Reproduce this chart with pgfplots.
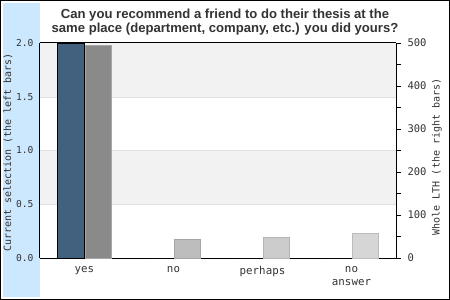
\documentclass[border=0pt]{standalone}
\usepackage{pgfplots}
\pgfplotsset{compat=1.18}
\usepackage{fontspec}
\setmainfont{Liberation Sans}
\newfontfamily\monofont{DejaVu Sans Mono}
\definecolor{sidebar}{HTML}{CCE8FF}
\definecolor{band}{HTML}{F2F2F2}
\definecolor{gridc}{HTML}{E0E0E0}
\definecolor{selbar}{HTML}{41617E}
\definecolor{lthA}{HTML}{8A8A8A}
\definecolor{lthB}{HTML}{BDBDBD}
\definecolor{lthC}{HTML}{CCCCCC}
\definecolor{lthD}{HTML}{D6D6D6}
\definecolor{txt}{HTML}{333333}

% Current selection (left axis); categories sit at 0.5, 1.5, 2.5, 3.5
\pgfplotstableread{
x y
0.5 2
1.5 0
2.5 0
3.5 0
}\selection
% Whole LTH (right axis), one table per shade
\pgfplotstableread{
x y
0.5 495
}\lthyes
\pgfplotstableread{
x y
1.5 44
}\lthno
\pgfplotstableread{
x y
2.5 48
}\lthperhaps
\pgfplotstableread{
x y
3.5 57
}\lthnoanswer

\pgfplotsset{
  common/.style={
    anchor=origin, at={(40pt,42pt)},
    width=356pt, height=215pt, scale only axis,
    xmin=0, xmax=4, ymin=0,
    axis line style={black,line width=1pt},
    /pgf/number format/assume math mode=true,
  },
}

\begin{document}
\begin{tikzpicture}
\path[use as bounding box] (0pt,0pt) rectangle (450pt,300pt);
\fill[white] (0pt,0pt) rectangle (450pt,300pt);
\fill[sidebar] (3pt,3pt) rectangle (40pt,297pt);
\draw[black,line width=1pt] (0.5pt,0.5pt) rectangle (449.5pt,299.5pt);
\node[font=\bfseries\fontsize{13.1}{14}\selectfont,text=txt,align=center] at (225pt,278pt) {Can you recommend a friend to do their thesis at the\\same place (department, company, etc.) you did yours?};

% left axis: current selection
\begin{axis}[
  common,
  ymax=2,
  axis y line*=left, axis x line*=bottom,
  xtick={0.5,1.5,2.5,3.5},
  xticklabels={yes,no,perhaps,{no\\answer}},
  xticklabel style={align=center,text=txt,font=\monofont\fontsize{10.8}{12.5}\selectfont,yshift=-5pt},
  ytick={0,0.5,1,1.5,2},
  yticklabel style={text=txt,font=\monofont\fontsize{9.6}{12}\selectfont,xshift=-3pt},
  /pgf/number format/.cd,fixed,fixed zerofill,precision=1,/pgfplots/.cd,
  major tick length=0pt,
  ylabel={Current selection (the left bars)},
  ylabel style={font=\monofont\fontsize{10}{12}\selectfont,text=txt,at={(axis description cs:-0.0899,0.49)},anchor=center},
  clip=false,
]
% background bands and grid lines
\fill[band] (axis cs:0,1.5) rectangle (axis cs:4,2);
\fill[band] (axis cs:0,0.5) rectangle (axis cs:4,1);
\draw[gridc] (axis cs:0,0.5) -- (axis cs:4,0.5);
\draw[gridc] (axis cs:0,1) -- (axis cs:4,1);
\draw[gridc] (axis cs:0,1.5) -- (axis cs:4,1.5);
\addplot[ybar, bar width=27pt, bar shift=-13.5pt, fill=selbar, draw=black, line width=0.8pt] table[x=x,y=y] {\selection};
\draw[black,line width=1pt] (axis cs:0,2) -- (axis cs:4,2);
\end{axis}

% right axis: whole LTH
\begin{axis}[
  common,
  ymax=500,
  axis y line*=right, axis x line=none,
  ytick={0,100,200,300,400,500},
  minor ytick={50,150,250,350,450},
  yticklabel style={text=txt,font=\monofont\fontsize{10.5}{12}\selectfont,xshift=3pt},
  tick style={black,line width=0.8pt},
  major tick length=5pt, minor tick length=5pt,
  tick align=outside,
  ylabel={Whole LTH (the right bars)},
  ylabel style={font=\monofont\fontsize{10}{12}\selectfont,text=txt,at={(axis description cs:1.115,0.47)},anchor=center},
]
\addplot[ybar, bar width=26pt, bar shift=13.5pt, fill=lthA, draw=lthA!75!white, line width=0.8pt] table[x=x,y=y] {\lthyes};
\addplot[ybar, bar width=26pt, bar shift=13.5pt, fill=lthB, draw=lthB!88!black, line width=0.6pt] table[x=x,y=y] {\lthno};
\addplot[ybar, bar width=26pt, bar shift=13.5pt, fill=lthC, draw=lthC!88!black, line width=0.6pt] table[x=x,y=y] {\lthperhaps};
\addplot[ybar, bar width=26pt, bar shift=13.5pt, fill=lthD, draw=lthD!88!black, line width=0.6pt] table[x=x,y=y] {\lthnoanswer};
\end{axis}
\end{tikzpicture}
\end{document}
